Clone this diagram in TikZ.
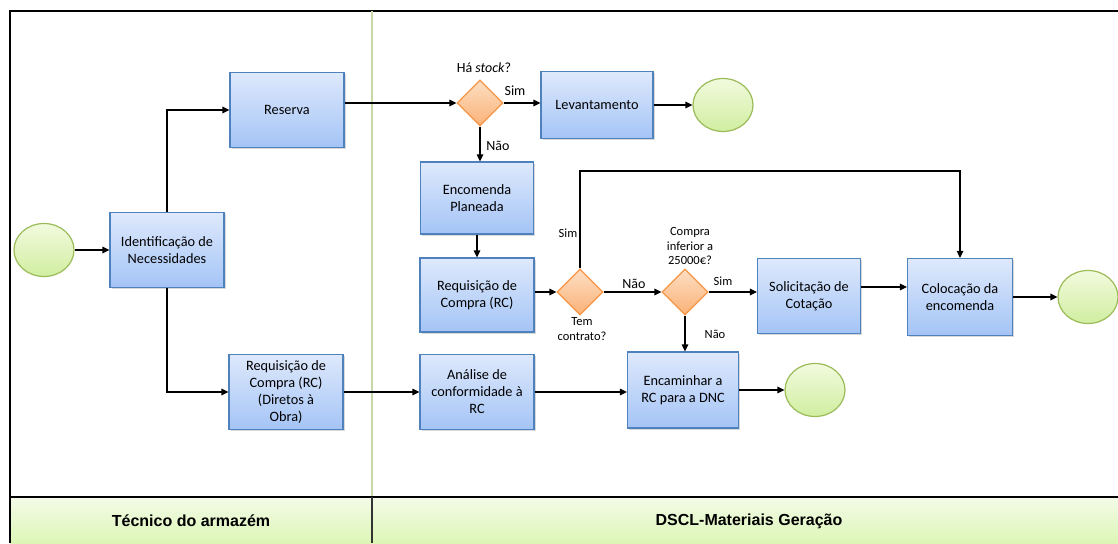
\documentclass[tikz,border=0pt]{standalone}
\usepackage{fontspec}
\setmainfont{Carlito}
\newfontfamily\faixafont{Liberation Sans}
\usetikzlibrary{shapes.geometric,arrows.meta,shadows}

\begin{document}
\begin{tikzpicture}[x=1pt,y=1pt,
        tarefa/.style={draw=azulBorda, line width=1.2pt, top color=azulTopo, bottom color=azulBase,
            minimum width=114pt, minimum height=75pt, align=center, inner sep=2pt,
            font=\fontsize{14.3}{17}\selectfont,
            drop shadow={opacity=0.3, shadow xshift=1.5pt, shadow yshift=-1.5pt}},
        decisao/.style={diamond, draw=laranjaBorda, line width=1.2pt, top color=laranjaTopo,
            bottom color=laranjaBase, minimum width=46pt, minimum height=46pt, inner sep=0pt},
        evento/.style={ellipse, draw=verdeBorda, line width=1.2pt, top color=verdeTopo,
            bottom color=verdeBase, minimum width=60pt, minimum height=53pt, inner sep=0pt},
        seta/.style={line width=1.2pt, -{Triangle[length=7pt,width=6.5pt]}},
        rotulo/.style={font=\fontsize{12.5}{14.5}\selectfont, align=center, inner sep=0pt}]
        \definecolor{azulBorda}{RGB}{79, 129, 189}
        \definecolor{azulTopo}{RGB}{222, 233, 252}
        \definecolor{azulBase}{RGB}{164, 196, 246}
        \definecolor{laranjaBorda}{RGB}{247, 150, 70}
        \definecolor{laranjaTopo}{RGB}{253, 222, 194}
        \definecolor{laranjaBase}{RGB}{250, 178, 120}
        \definecolor{verdeBorda}{RGB}{155, 187, 89}
        \definecolor{verdeTopo}{RGB}{242, 250, 222}
        \definecolor{verdeBase}{RGB}{208, 238, 160}
        \definecolor{faixaTopo}{RGB}{244, 251, 232}
        \definecolor{faixaBase}{RGB}{220, 246, 182}
        \definecolor{divisoria}{RGB}{200, 214, 168}
        \useasboundingbox (0,0) rectangle (1118,-543);

        % moldura e faixas
        \shade[top color=faixaTopo, bottom color=faixaBase] (10,-497) rectangle (1118,-543);
        \draw[line width=1.4pt] (10,-543) -- (10,-11) -- (1118,-11);
        \draw[line width=1.2pt, divisoria] (372,-11) -- (372,-497);
        \draw[line width=1.4pt] (10,-497) -- (1118,-497);
        \draw[line width=1.2pt, black!80] (372,-497) -- (372,-543);
        \node[font=\faixafont\bfseries\fontsize{16}{19}\selectfont] (tecnico) at (191,-521) {Técnico do armazém};
        \node[font=\faixafont\bfseries\fontsize{16}{19}\selectfont] (dscl) at (749,-521) {DSCL-Materiais Geração};

        % tarefas
        \node[evento] (inicio) at (44,-250) {};
        \node[tarefa] (ident) at (167,-250) {Identificação de\\Necessidades};
        \node[tarefa] (reserva) at (287,-110) {Reserva};
        \node[tarefa] (diretos) at (286,-392) {Requisição de\\Compra (RC)\\(Diretos à\\Obra)};
        \node[decisao] (stock) at (480,-103) {};
        \node[tarefa, minimum width=112pt, minimum height=67pt] (levant) at (597,-105) {Levantamento};
        \node[evento] (fim1) at (723,-105) {};
        \node[tarefa, minimum width=113pt, minimum height=72pt] (encomenda) at (477,-198) {Encomenda\\Planeada};
        \node[tarefa, minimum height=74pt] (rcompra) at (477,-295) {Requisição de\\Compra (RC)};
        \node[decisao] (contrato) at (580,-292) {};
        \node[decisao] (compra) at (685,-292) {};
        \node[tarefa, minimum width=103pt] (solicit) at (809,-296) {Solicitação de\\Cotação};
        \node[tarefa, minimum width=105pt, minimum height=77pt] (colocacao) at (960,-297) {Colocação da\\encomenda};
        \node[evento] (fim3) at (1088,-297) {};
        \node[tarefa] (analise) at (477,-392) {Análise de\\conformidade à\\RC};
        \node[tarefa, minimum width=111pt, minimum height=76pt] (encaminhar) at (683,-390) {Encaminhar a\\RC para a DNC};
        \node[evento] (fim2) at (815,-390) {};
        \coordinate (topo) at (580,-171);

        % ligacoes
        \draw[seta] (inicio) -- (ident);
        \draw[seta] (ident.north) |- (reserva.west);
        \draw[seta] (ident.south) |- (diretos.west);
        \draw[seta] (reserva.east |- stock.west) -- (stock.west);
        \draw[seta] (stock.east) -- (stock.east -| levant.west);
        \draw[seta] (levant) -- (fim1);
        \draw[seta] (stock.south) -- (stock.south |- encomenda.north);
        \draw[seta] (encomenda) -- (rcompra);
        \draw[seta] (rcompra.east |- contrato.west) -- (contrato.west);
        \draw[seta] (contrato.north) -- (topo) -| (colocacao.north);
        \draw[seta] (contrato) -- (compra);
        \draw[seta] (compra.east) -- (compra.east -| solicit.west);
        \draw[seta] ([yshift=9pt]solicit.east) -- ([yshift=9pt]solicit.east -| colocacao.west);
        \draw[seta] (colocacao) -- (fim3);
        \draw[seta] (compra.south) -- (compra.south |- encaminhar.north);
        \draw[seta] (diretos) -- (analise);
        \draw[seta] (analise.east) -- (analise.east -| encaminhar.west);
        \draw[seta] (encaminhar) -- (fim2);

        % rotulos
        \node[rotulo, font=\fontsize{14}{16}\selectfont] (lstock) at (484,-68) {Há \textit{stock}?};
        \node[rotulo, font=\fontsize{14}{16}\selectfont] (sim1) at (515,-91) {Sim};
        \node[rotulo, font=\fontsize{14}{16}\selectfont] (nao1) at (498,-146) {Não};
        \node[rotulo] (sim2) at (568,-233) {Sim};
        \node[rotulo] (lcontrato) at (582,-329) {Tem\\contrato?};
        \node[rotulo, font=\fontsize{14}{16}\selectfont] (nao2) at (634,-284) {Não};
        \node[rotulo] (lcompra) at (690,-246) {Compra\\inferior a\\25000€?};
        \node[rotulo] (sim3) at (723,-281) {Sim};
        \node[rotulo] (nao3) at (715,-334) {Não};
    \end{tikzpicture}
\end{document}
